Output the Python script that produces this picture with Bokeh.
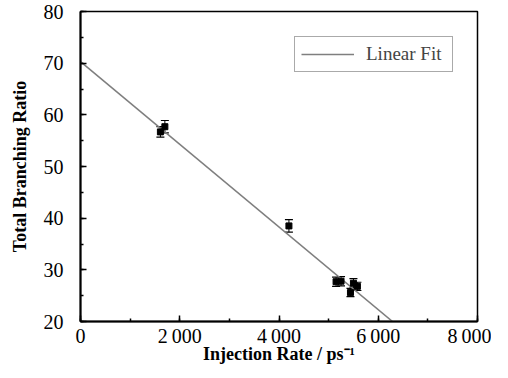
from bokeh.plotting import figure
from bokeh.layouts import row
from bokeh.models import (ColumnDataSource, Whisker, TeeHead, Legend, LegendItem,
                          SingleIntervalTicker, Range1d, Spacer)
from bokeh.embed import file_html
from bokeh.resources import INLINE

# data
rate = [1610, 1700, 4200, 5150, 5250, 5440, 5500, 5580]
ratio = [56.7, 57.7, 38.5, 27.7, 27.8, 25.6, 27.4, 26.8]
err = [1.0, 1.2, 1.2, 0.9, 0.9, 0.8, 0.9, 0.8]
fit_intercept = 70.3
fit_slope = -0.00800
x_ticks = [0, 2000, 4000, 6000, 8000]
x_tick_labels = ["0", "2\u2009000", "4\u2009000", "6\u2009000", "8\u2009000"]

serif = "Liberation Serif"

p = figure(frame_width=397, frame_height=310, output_backend="svg", toolbar_location=None,
           x_range=Range1d(0, 8000), y_range=Range1d(20, 80),
           min_border_left=0, min_border_right=14, min_border_top=0, min_border_bottom=0)
p.title.text = "\u00a0"
p.title.text_font_size = "8px"
p.title.standoff = 0
p.title.offset = 0
p.background_fill_color = "white"
p.border_fill_color = "white"
p.grid.visible = False
p.outline_line_color = "black"
p.outline_line_width = 1.5

src = ColumnDataSource(dict(x=rate, y=ratio,
                            lo=[a - b for a, b in zip(ratio, err)],
                            hi=[a + b for a, b in zip(ratio, err)]))

# fit line from x=0 to where it reaches the axis bottom
x_end = (20 - fit_intercept) / fit_slope
fx = [0, x_end]
fy = [fit_intercept + fit_slope * v for v in fx]
fit_r = p.line(fx, fy, line_color="#7f7f7f", line_width=1.6)

w = Whisker(source=src, base="x", upper="hi", lower="lo", line_color="black", line_width=1,
            upper_head=TeeHead(size=8, line_color="black", line_width=1.2),
            lower_head=TeeHead(size=8, line_color="black", line_width=1.2))
p.add_layout(w)
p.scatter("x", "y", source=src, marker="square", size=6, fill_color="black", line_color="black")

# axes
p.xaxis.ticker = SingleIntervalTicker(interval=2000, num_minor_ticks=2)
p.xaxis.major_label_overrides = {t: l for t, l in zip(x_ticks, x_tick_labels)}
p.yaxis.ticker = SingleIntervalTicker(interval=10, num_minor_ticks=2)
for ax in (p.xaxis, p.yaxis):
    ax.axis_line_width = 2
    ax.axis_line_color = "black"
    ax.major_tick_in = 6
    ax.major_tick_out = 0
    ax.minor_tick_in = 3
    ax.minor_tick_out = 0
    ax.major_tick_line_width = 1.5
    ax.minor_tick_line_width = 1.5
    ax.major_label_text_font = serif
    ax.major_label_text_font_size = "20px"
    ax.major_label_text_color = "black"
    ax.axis_label_text_font = serif
    ax.axis_label_text_font_style = "bold"
    ax.axis_label_text_font_size = "18px"
    ax.axis_label_text_color = "black"
p.xaxis.major_label_standoff = 3
p.yaxis.major_label_standoff = 17
p.xaxis.axis_label = "Injection Rate / ps\u207b\u00b9"
p.yaxis.axis_label = "Total Branching Ratio"
p.xaxis.axis_label_standoff = -6
p.yaxis.axis_label_standoff = 11

legend = Legend(items=[LegendItem(label="Linear Fit", renderers=[fit_r])],
                location=(214, 249), margin=0, padding=6, glyph_width=53, glyph_height=18,
                label_height=18, label_width=80, label_standoff=12, spacing=0,
                label_text_font=serif, label_text_font_size="19px",
                border_line_color="#555555", border_line_width=1,
                background_fill_color="white", background_fill_alpha=1)
p.add_layout(legend)

layout = row(Spacer(width=6), p)
open("out.html", "w").write(file_html(layout, INLINE))
